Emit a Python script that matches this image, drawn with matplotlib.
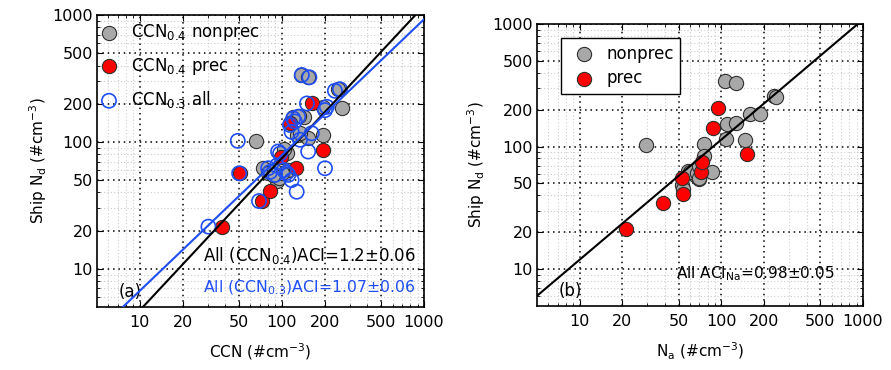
import matplotlib

matplotlib.use("Agg")
import matplotlib.pyplot as plt
import numpy as np
from matplotlib.ticker import FixedLocator, FixedFormatter, NullFormatter

plt.rcParams["font.family"] = ["DejaVu Sans"]
plt.rcParams["font.size"] = 11
plt.rcParams["mathtext.default"] = "regular"

# panel (a): CCN vs ship Nd
ccn_nonprec = [66, 136, 153, 264, 250, 196, 142, 120, 196, 153, 128, 108, 74, 92,
               80, 95, 111, 134, 100, 88, 103, 131, 86]
nd_nonprec_a = [101, 337, 323, 184, 260, 187, 158, 156, 113, 107, 113, 82, 62, 49,
                57, 52, 60, 117, 57, 60, 88, 160, 55]
ccn_prec = [37.7, 50.7, 72, 82, 98.6, 126, 114, 162, 196]
nd_prec_a = [21.5, 56.6, 34.2, 41, 76.4, 62, 142, 201, 86]
ccn03_all = [30.4, 48.9, 50, 69, 94, 127, 117, 138, 156, 150, 162, 153, 201, 201,
             236, 256, 120, 114, 134, 80, 92, 103, 111, 89.5, 82.5, 108, 117, 123,
             130, 207, 97]
nd_all_a = [21.5, 102, 56.6, 34.2, 84, 40.5, 50, 337, 323, 201, 117, 84, 62, 178,
            253, 260, 153, 136, 104, 62, 65, 60, 55, 55, 58, 57, 120, 145,
            158, 189, 81]

# panel (b): Na vs ship Nd
na_nonprec = [29.4, 106, 126, 237, 245, 159, 187, 109, 127, 108, 147, 76, 76,
              85.5, 58.5, 65, 69.8, 52.5, 54, 60, 67, 70, 70]
nd_nonprec_b = [103, 345, 332, 259, 252, 185, 185, 153, 157, 115, 113, 105, 84,
                61.7, 63.6, 58.6, 54, 49, 45, 62, 61, 70, 55]
na_prec = [21.1, 38.9, 53.9, 52.5, 71.5, 73.4, 87, 95, 151]
nd_prec_b = [21.1, 34.5, 41, 55.8, 61.7, 75, 143, 205, 86.5]

# power-law fits Nd = a * X**aci
fit_ccn04 = (0.297, 1.2)
fit_ccn03 = (0.571, 1.07)
fit_na = (1.25, 0.98)

major = [10, 20, 50, 100, 200, 500, 1000]
minor = [6, 7, 8, 9, 30, 40, 60, 70, 80, 90, 300, 400, 600, 700, 800, 900]
lims = (5, 1000)

GRAY = "#a8a8a8"
RED = "#ff0000"
BLUE = "#1f4ef5"


def style_axes(ax):
    ax.set_xscale("log")
    ax.set_yscale("log")
    ax.set_xlim(*lims)
    ax.set_ylim(*lims)
    for axis in (ax.xaxis, ax.yaxis):
        axis.set_major_locator(FixedLocator(major))
        axis.set_major_formatter(FixedFormatter([str(v) for v in major]))
        axis.set_minor_locator(FixedLocator(minor))
        axis.set_minor_formatter(NullFormatter())
    ax.tick_params(which="both", direction="in", top=True, right=True)
    ax.tick_params(which="major", length=4, width=0.8, pad=6, labelsize=11.5)
    ax.tick_params(which="minor", length=2, width=0.6)
    ax.tick_params(axis="y", which="major", pad=3)
    ax.grid(which="major", color="black", linestyle=(0, (1, 2.5)), lw=1.1)
    ax.grid(which="minor", color="#cccccc", linestyle=(0, (1, 2)), lw=0.8)
    ax.set_axisbelow(True)
    for s in ax.spines.values():
        s.set_linewidth(1.2)


fig = plt.figure(figsize=(8.91, 3.70), dpi=100)
ax1 = fig.add_axes([0.1089, 0.1703, 0.367, 0.789])
ax2 = fig.add_axes([0.6027, 0.173, 0.3659, 0.762])

xs = np.array(lims, dtype=float)

# (a)
style_axes(ax1)
kw = dict(s=105, edgecolors="#303030", linewidths=0.8)
ax1.scatter(ccn_nonprec, nd_nonprec_a, c=GRAY, label="CCN$_{0.4}$ nonprec", zorder=3, **kw)
ax1.scatter(ccn_prec, nd_prec_a, c=RED, label="CCN$_{0.4}$ prec", zorder=4, **kw)
ax1.scatter(ccn03_all, nd_all_a, facecolors="none", edgecolors=BLUE, s=105,
            linewidths=1.2, label="CCN$_{0.3}$ all", zorder=5)
ax1.plot(xs, fit_ccn04[0] * xs ** fit_ccn04[1], color="black", lw=1.5, zorder=6)
ax1.plot(xs, fit_ccn03[0] * xs ** fit_ccn03[1], color=BLUE, lw=1.5, zorder=6)
ax1.legend(loc="upper left", bbox_to_anchor=(-0.045, 1.01), frameon=False,
           handletextpad=0.3, labelspacing=0.75, borderaxespad=0.2, fontsize=12)
ax1.text(0.324, 0.159, "All (CCN$_{0.4}$)ACI=1.2±0.06", transform=ax1.transAxes,
         color="black", va="baseline", fontsize=12)
ax1.text(0.324, 0.052, "All (CCN$_{0.3}$)ACI=1.07±0.06", transform=ax1.transAxes,
         color=BLUE, va="baseline", fontsize=11.3)
ax1.text(0.065, 0.05, "(a)", transform=ax1.transAxes, va="center", fontsize=12)
ax1.set_xlabel("CCN (#cm$^{-3}$)", labelpad=8)
ax1.set_ylabel("Ship N$_d$ (#cm$^{-3}$)", labelpad=2)

# (b)
style_axes(ax2)
ax2.scatter(na_nonprec, nd_nonprec_b, c=GRAY, label="nonprec", zorder=3, **kw)
ax2.scatter(na_prec, nd_prec_b, c=RED, label="prec", zorder=4, **kw)
ax2.plot(xs, fit_na[0] * xs ** fit_na[1], color="black", lw=1.5, zorder=6)
leg = ax2.legend(loc="upper left", bbox_to_anchor=(0.074, 0.95), fancybox=False,
                 edgecolor="black", framealpha=1, handletextpad=0.3,
                 labelspacing=0.4, borderaxespad=0, fontsize=12)
leg.get_frame().set_linewidth(1.0)
ax2.text(0.426, 0.098, "All ACI$_{Na}$=0.98±0.05", transform=ax2.transAxes,
         va="baseline")
ax2.text(0.067, 0.053, "(b)", transform=ax2.transAxes, va="center", fontsize=12)
ax2.set_xlabel("N$_a$ (#cm$^{-3}$)", labelpad=8)
ax2.set_ylabel("Ship N$_d$ (#cm$^{-3}$)", labelpad=4)

fig.savefig("out.png", dpi=100)
